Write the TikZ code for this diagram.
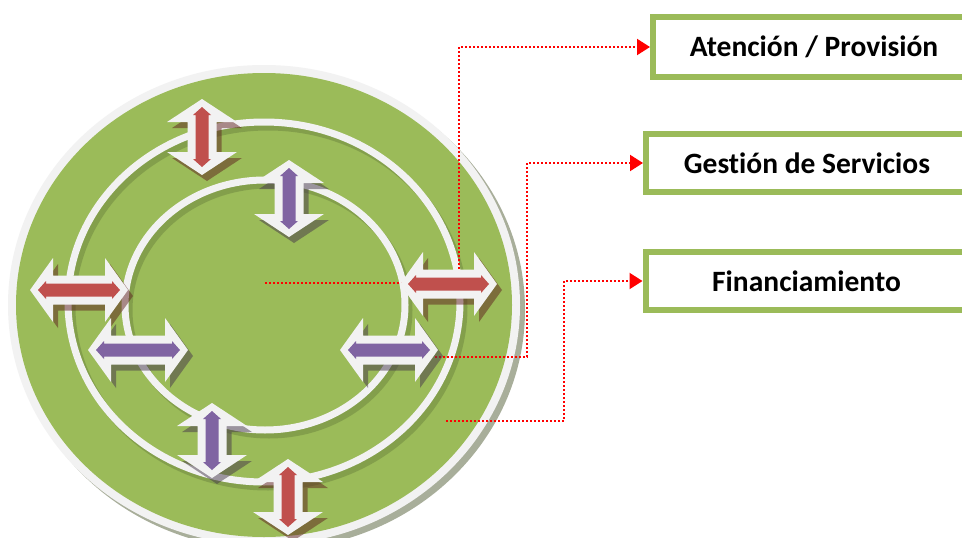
\documentclass[tikz,border=0pt]{standalone}
\usepackage{fontspec}
\setmainfont[Ligatures=NoCommon]{Carlito}
\usetikzlibrary{arrows.meta}
\definecolor{olivegreen}{RGB}{155,187,89}
\definecolor{ringwhite}{RGB}{242,242,242}
\definecolor{arrred}{RGB}{192,80,77}
\definecolor{arrpurple}{RGB}{128,100,162}
\definecolor{redshadow}{RGB}{95,33,31}
\definecolor{purpleshadow}{RGB}{70,55,75}
\definecolor{diskshadow}{RGB}{168,174,154}
\definecolor{linkred}{RGB}{255,0,0}
\newcommand\dblpath[4]{(-#1,0) -- (-#1+#2,#3) -- (-#1+#2,#4) -- (#1-#2,#4) -- (#1-#2,#3) -- (#1,0) -- (#1-#2,-#3) -- (#1-#2,-#4) -- (-#1+#2,-#4) -- (-#1+#2,-#3) -- cycle}
% #1 centre, #2 angle, #3 half length, #4 head half width, #5 inner colour, #6 shadow colour
\newcommand\blockarrow[6]{%
  \pgfmathsetmacro\innerL{#3-8}%
  \begin{scope}[shift={(5,6)}]\begin{scope}[shift={(#1)},rotate=#2]
    \fill[#6,opacity=.5] \dblpath{#3}{23}{#4}{14.5};
  \end{scope}\end{scope}
  \begin{scope}[shift={(#1)},rotate=#2]
    \fill[ringwhite] \dblpath{#3}{23}{#4}{14.5};
    \fill[#5] \dblpath{\innerL}{8}{9}{6.5};
  \end{scope}}
\tikzset{
  ring/.style={draw=ringwhite,line width=7},
  box/.style={draw=olivegreen,line width=6,fill=white,minimum width=322,minimum height=60,
    font=\bfseries\fontsize{29.5}{34}\selectfont,inner sep=0},
  conn/.style={draw=linkred,line width=2,dash pattern=on 2 off 2,
    -{Triangle[length=13,width=16,fill=linkred]}},
}
\begin{document}
\begin{tikzpicture}[x=1pt,y=-1pt]
\clip (0,0) rectangle (962,538);
\fill[white] (0,0) rectangle (962,538);
% disk
\fill[diskshadow] (269,310) ellipse [x radius=256,y radius=240];
\fill[ringwhite] (264,305) ellipse [x radius=256,y radius=240];
\fill[olivegreen] (264,305) ellipse [x radius=248,y radius=232];
% ring shadows
\draw[black,opacity=.15,line width=7] (268,307) ellipse [x radius=196,y radius=180];
\draw[black,opacity=.15,line width=7] (269,310) ellipse [x radius=140,y radius=125];
\draw[ring] (264,302) ellipse [x radius=196,y radius=180];
\draw[ring] (265,305) ellipse [x radius=140,y radius=125];
% boxes
\node[box] (atencion) at (814,47) {Atención / Provisión};
\node[box,minimum height=58] (gestion) at (807,163) {Gestión de Servicios};
\node[box,minimum height=58] (financ) at (806.5,281) {Financiamiento};
% connectors
\coordinate (s1) at (265,283);
\coordinate (b1) at (459,283);
\coordinate (s2) at (435,357);
\coordinate (b2) at (527,357);
\coordinate (s3) at (446,421);
\coordinate (b3) at (564,421);
\draw[conn] (s1) -- (b1) |- (atencion.west);
\draw[conn] (s2) -- (b2) |- (gestion.west);
\draw[conn] (s3) -- (b3) |- (financ.west);
% arrows on the middle ring
\blockarrow{202,137}{90}{38}{35}{arrred}{redshadow}
\blockarrow{79,290}{0}{49}{32}{arrred}{redshadow}
\blockarrow{448.5,284}{0}{48.5}{32}{arrred}{redshadow}
\blockarrow{288,497}{90}{38}{35}{arrred}{redshadow}
% arrows on the inner ring
\blockarrow{289,198.5}{90}{38.5}{35}{arrpurple}{purpleshadow}
\blockarrow{138,350}{0}{50}{32}{arrpurple}{purpleshadow}
\blockarrow{389,350}{0}{49}{32}{arrpurple}{purpleshadow}
\blockarrow{212,440.5}{90}{37.5}{35}{arrpurple}{purpleshadow}
\end{tikzpicture}
\end{document}
